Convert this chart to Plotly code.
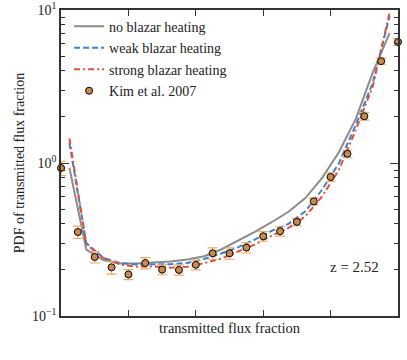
import plotly.graph_objects as go

# model curves evaluated at bin centres
x_model = [0.025, 0.075, 0.125, 0.175, 0.225, 0.275, 0.325, 0.375, 0.425, 0.475,
           0.525, 0.575, 0.625, 0.675, 0.725, 0.775, 0.825, 0.875, 0.925, 0.975]
no_heating = [0.93, 0.272, 0.232, 0.220, 0.220, 0.223, 0.227, 0.234, 0.246, 0.272,
              0.31, 0.355, 0.41, 0.48, 0.59, 0.80, 1.18, 1.95, 3.9, 7.05]
weak_heating = [1.35, 0.30, 0.24, 0.222, 0.217, 0.217, 0.218, 0.222, 0.236, 0.256,
                0.281, 0.316, 0.36, 0.40, 0.483, 0.67, 1.0, 1.78, 3.33, 9.1]
strong_heating = [1.45, 0.295, 0.24, 0.217, 0.21, 0.211, 0.207, 0.21, 0.222, 0.237,
                  0.264, 0.293, 0.335, 0.376, 0.448, 0.605, 0.905, 1.65, 3.16, 9.6]

# Kim et al. 2007 measurements
x_kim = [0.0, 0.05, 0.1, 0.15, 0.2, 0.25, 0.3, 0.35, 0.4, 0.45, 0.5,
         0.55, 0.6, 0.65, 0.7, 0.75, 0.8, 0.85, 0.9, 0.95, 1.0]
pdf_kim = [0.927, 0.354, 0.243, 0.208, 0.187, 0.222, 0.201, 0.200, 0.216, 0.257, 0.257,
           0.280, 0.332, 0.358, 0.412, 0.561, 0.810, 1.149, 2.02, 4.63, 6.18]
err_kim = [0.10, 0.033, 0.021, 0.020, 0.014, 0.019, 0.015, 0.015, 0.016, 0.022, 0.022,
           0.022, 0.024, 0.025, 0.023, 0.028, 0.052, 0.067, 0.115, 0.21, 0.32]

y_tickvals = [0.1, 1, 10]
y_ticktext = ["10<sup>\u22121</sup>", "10<sup>0</sup>", "10<sup>1</sup>"]
x_tickvals = [0.2, 0.4, 0.6, 0.8]

FONT = "Liberation Serif, Times New Roman, serif"

fig = go.Figure()
fig.add_trace(go.Scatter(x=x_model, y=no_heating, mode="lines", name="no blazar heating",
                         legendgroup="none", line=dict(color="#8c8c8c", width=2)))
fig.add_trace(go.Scatter(x=x_model, y=weak_heating, mode="lines", name="weak blazar heating",
                         legendgroup="weak", line=dict(color="#3d80cc", width=2, dash="6px,3px")))
fig.add_trace(go.Scatter(x=x_model, y=strong_heating, mode="lines", name="strong blazar heating",
                         legendgroup="strong",
                         line=dict(color="#e0503c", width=2, dash="6px,3px,2px,3px")))
fig.add_trace(go.Scatter(
    x=x_kim, y=pdf_kim, mode="markers", name="Kim et al. 2007", cliponaxis=False,
    legendgroup="kim",
    marker=dict(color="#c98b4b", size=7, line=dict(color="black", width=1)),
    error_y=dict(type="data", array=err_kim, color="#eba868", thickness=1.2, width=5),
))

fig.add_annotation(x=0.87, y=0.161, xref="paper", yref="paper", text="z = 2.52",
                   xanchor="center", yanchor="middle",
                   showarrow=False, font=dict(size=15, color="#222"))

axis_common = dict(showline=True, linecolor="#333", linewidth=1.5, mirror="ticks",
                   ticks="inside", tickcolor="#333", showgrid=False, zeroline=False,
                   automargin=False)

fig.update_xaxes(range=[0, 1], tickvals=x_tickvals, showticklabels=False, ticklen=6,
                 title=dict(text="transmitted flux fraction", font=dict(size=14.5), standoff=6),
                 **axis_common)
fig.update_yaxes(type="log", range=[-1, 1], tickvals=y_tickvals, ticktext=y_ticktext,
                 ticklen=8, tickfont=dict(size=14),
                 minor=dict(ticks="inside", ticklen=4, tickcolor="#333", dtick="D1"),
                 title=dict(text="PDF of transmitted flux fraction", font=dict(size=14), standoff=4),
                 **axis_common)

fig.update_layout(
    width=407, height=360,
    margin=dict(l=61, r=9, t=10, b=44),
    paper_bgcolor="white", plot_bgcolor="white",
    font=dict(family=FONT, color="#222", size=14),
    showlegend=True,
    legend=dict(x=0.024, y=0.998, xanchor="left", yanchor="top", bgcolor="rgba(0,0,0,0)",
                font=dict(size=14), traceorder="grouped", tracegroupgap=0.3),
)

# the page's default body margin would shift the figure by 8px
fig.write_html("out.html", config={"displayModeBar": False},
               post_script="document.body.style.margin = '0';")
